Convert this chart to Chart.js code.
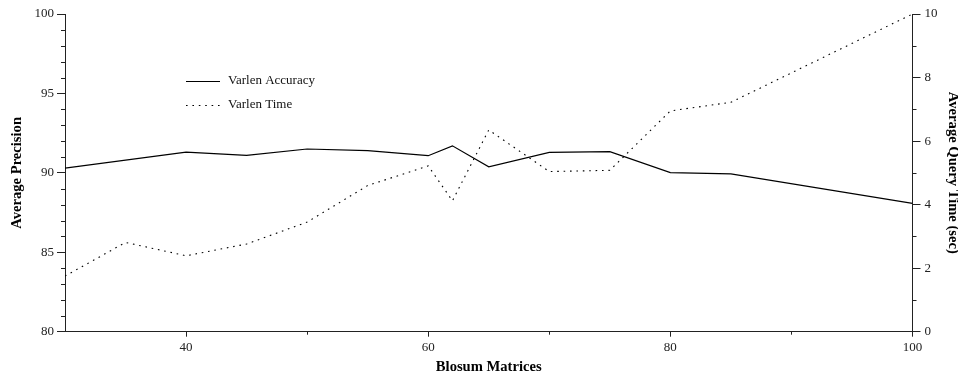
<!DOCTYPE html>
<html>
<head>
<meta charset="utf-8">
<script src="https://cdn.jsdelivr.net/npm/chart.js@4/dist/chart.umd.min.js"></script>
<style>
html,body{margin:0;padding:0;background:#fff;}
#wrap{width:958px;height:378px;}
</style>
</head>
<body>
<div id="wrap"><canvas id="c" width="958" height="378"></canvas></div>
<script>
// ---- data ----
const accuracyX = [30, 40, 45, 50, 55, 60, 62, 65, 70, 75, 80, 85, 100];
const accuracyY = [90.3, 91.3, 91.1, 91.5, 91.4, 91.08, 91.7, 90.38, 91.29, 91.33, 90.01, 89.94, 88.08];
const timeX = [30, 35, 40, 45, 50, 55, 60, 62, 65, 70, 75, 80, 85, 100];
const timeY = [1.75, 2.81, 2.39, 2.76, 3.45, 4.6, 5.22, 4.12, 6.35, 5.04, 5.08, 6.95, 7.22, 10.0];
const xTicks = [40, 60, 80, 100];
const xMinorTicks = [50, 70, 90];
const leftTicks = [80, 85, 90, 95, 100];
const leftMinorTicks = [81, 82, 83, 84, 86, 87, 88, 89, 91, 92, 93, 94, 96, 97, 98, 99];
const rightTicks = [0, 2, 4, 6, 8, 10];
const rightMinorTicks = [1, 3, 5, 7, 9];
const seriesLabels = ['Varlen Accuracy', 'Varlen Time'];
const xTitle = 'Blosum Matrices';
const leftTitle = 'Average Precision';
const rightTitle = 'Average Query Time (sec)';

const FONT = "'Liberation Serif', 'Times New Roman', serif";
const AXIS = '#222';
const TITLE_SIZE = 14.6;

function pts(xs, ys) { return xs.map((x, i) => ({x: x, y: ys[i]})); }

const minorAndLegend = {
  id: 'minorAndLegend',
  afterDraw(chart) {
    const ctx = chart.ctx;
    const sx = chart.scales.x, sl = chart.scales.yL, sr = chart.scales.yR;
    const ca = chart.chartArea;
    ctx.save();
    ctx.strokeStyle = AXIS;
    ctx.lineWidth = 1;
    ctx.beginPath();
    xMinorTicks.forEach(v => {
      const p = Math.round(sx.getPixelForValue(v)) + 0.5;
      ctx.moveTo(p, ca.bottom); ctx.lineTo(p, ca.bottom + 3);
    });
    leftMinorTicks.forEach(v => {
      const p = Math.round(sl.getPixelForValue(v)) + 0.5;
      ctx.moveTo(ca.left - 4, p); ctx.lineTo(ca.left, p);
    });
    rightMinorTicks.forEach(v => {
      const p = Math.round(sr.getPixelForValue(v)) + 0.5;
      ctx.moveTo(ca.right, p); ctx.lineTo(ca.right + 4, p);
    });
    ctx.stroke();

    // legend
    const lx = 186, lw = 34, tx = 228, rows = [81, 105];
    chart.data.datasets.forEach((ds, i) => {
      const y = rows[i] + 0.5;
      ctx.beginPath();
      ctx.strokeStyle = ds.borderColor;
      ctx.lineWidth = ds.borderWidth;
      ctx.setLineDash(ds.borderDash || []);
      ctx.moveTo(lx, y); ctx.lineTo(lx + lw, y);
      ctx.stroke();
      ctx.setLineDash([]);
      ctx.fillStyle = '#111';
      ctx.font = '13px ' + FONT;
      ctx.textBaseline = 'middle';
      ctx.textAlign = 'left';
      ctx.fillText(ds.label, tx, rows[i]);
    });
    ctx.restore();
  }
};

new Chart(document.getElementById('c'), {
  type: 'line',
  data: {
    datasets: [
      {
        label: seriesLabels[0],
        data: pts(accuracyX, accuracyY),
        yAxisID: 'yL',
        borderColor: '#000',
        borderWidth: 1.2,
        pointRadius: 0,
        tension: 0,
        fill: false
      },
      {
        label: seriesLabels[1],
        data: pts(timeX, timeY),
        yAxisID: 'yR',
        borderColor: '#000',
        borderWidth: 1.1,
        borderDash: [1.6, 4.8],
        pointRadius: 0,
        tension: 0,
        fill: false
      }
    ]
  },
  options: {
    responsive: false,
    animation: false,
    devicePixelRatio: 1,
    layout: { padding: { top: 14, left: 0, right: 0, bottom: 0 } },
    plugins: { legend: { display: false }, tooltip: { enabled: false } },
    scales: {
      x: {
        type: 'linear',
        position: 'bottom',
        min: 30, max: 100,
        afterBuildTicks: s => { s.ticks = xTicks.map(v => ({value: v})); },
        afterFit: s => { s.height = 46.3; },
        grid: { display: true, drawOnChartArea: false, drawTicks: true, tickLength: 5, tickColor: AXIS, tickWidth: 1 },
        border: { display: true, color: AXIS, width: 1 },
        ticks: { color: '#222', padding: 3, maxRotation: 0, autoSkip: false, font: { family: FONT, size: 13 } },
        title: { display: true, text: xTitle, color: '#000', padding: { top: 0, bottom: 2.3 }, font: { family: FONT, size: TITLE_SIZE, weight: 'bold' } }
      },
      yL: {
        type: 'linear',
        position: 'left',
        min: 80, max: 100,
        afterBuildTicks: s => { s.ticks = leftTicks.map(v => ({value: v})); },
        afterFit: s => { s.width = 65; },
        grid: { display: true, drawOnChartArea: false, drawTicks: true, tickLength: 8, tickColor: AXIS, tickWidth: 1 },
        border: { display: true, color: AXIS, width: 1 },
        ticks: { color: '#222', padding: 3, autoSkip: false, font: { family: FONT, size: 13 } },
        title: { display: true, text: leftTitle, color: '#000', padding: { top: 8.5, bottom: 0 }, font: { family: FONT, size: TITLE_SIZE, weight: 'bold' } }
      },
      yR: {
        type: 'linear',
        position: 'right',
        min: 0, max: 10,
        afterBuildTicks: s => { s.ticks = rightTicks.map(v => ({value: v})); },
        afterFit: s => { s.width = 45.5; },
        grid: { display: true, drawOnChartArea: false, drawTicks: true, tickLength: 8, tickColor: AXIS, tickWidth: 1 },
        border: { display: true, color: AXIS, width: 1 },
        ticks: { color: '#222', padding: 4, autoSkip: false, font: { family: FONT, size: 13 } },
        title: { display: true, text: rightTitle, color: '#000', padding: { top: -3.2, bottom: 0 }, font: { family: FONT, size: TITLE_SIZE, weight: 'bold' } }
      }
    }
  },
  plugins: [minorAndLegend]
});
</script>
</body>
</html>
